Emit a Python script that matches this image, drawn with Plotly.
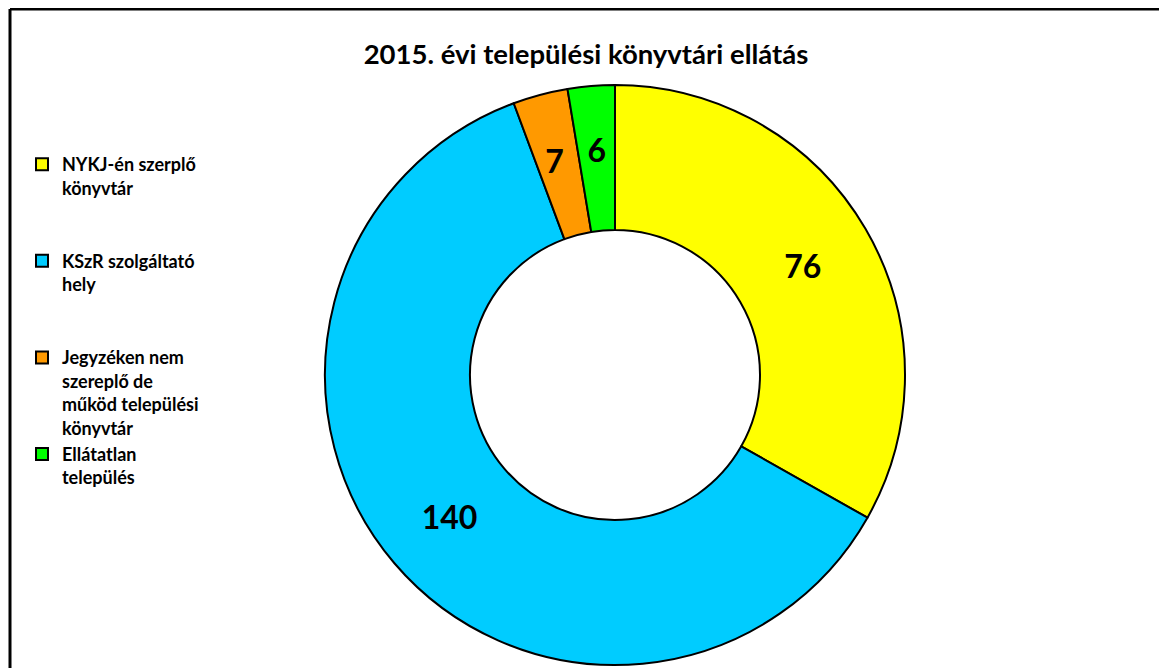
import plotly.graph_objects as go

title = "2015. évi települési könyvtári ellátás"
labels = [
    "NYKJ-én szerplő<br>könyvtár<br>\u00a0<br>\u00a0",
    "KSzR szolgáltató<br>hely<br>\u00a0<br>\u00a0",
    "Jegyzéken nem<br>szereplő de<br>működ települési<br>könyvtár",
    "Ellátatlan<br>település",
]
values = [76, 140, 7, 6]
colors = ["#FFFF00", "#00CCFF", "#FF9900", "#00FF00"]
# thin slices: pad label with blank lines above so the number sits mid-ring
label_templates = ["%{value}", "%{value}",
                   "\u00a0<br>\u00a0<br>\u00a0\u00a0%{value}",
                   "\u00a0<br>\u00a0<br>\u00a0%{value}"]

# page has an 8px body margin; figure coordinates = page coordinates - 8
OFF = 8
W, H = 1167 - OFF, 668 - OFF
FONT = "Lato, 'Open Sans', sans-serif"


def px(xp):
    return (xp - OFF) / W


def py(yp):
    return 1 - (yp - OFF) / H


fig = go.Figure()
fig.add_trace(go.Pie(
    labels=labels,
    values=values,
    hole=0.5,
    sort=False,
    direction="clockwise",
    rotation=0,
    marker=dict(colors=colors, line=dict(color="#000000", width=2)),
    texttemplate=label_templates,
    textposition="inside",
    insidetextorientation="horizontal",
    textfont=dict(family=FONT, size=32, color="#000000", weight="bold"),
    hoverinfo="label+value+percent",
    domain=dict(x=[px(325), px(905)], y=[py(665), py(85)]),
    showlegend=True,
))

fig.update_layout(
    width=W, height=H,
    margin=dict(l=0, r=0, t=0, b=0),
    paper_bgcolor="#FFFFFF",
    plot_bgcolor="#FFFFFF",
    uniformtext=dict(minsize=32, mode="show"),
    title=dict(
        text=f"<b>{title}</b>",
        x=px(586), xanchor="center",
        y=py(54), yanchor="middle",
        font=dict(family=FONT, size=27.5, color="#000000"),
    ),
    legend=dict(
        x=px(22), xanchor="left",
        y=py(146), yanchor="top",
        valign="top",
        font=dict(family=FONT, size=18, color="#000000", weight="bold"),
        bgcolor="rgba(0,0,0,0)",
        traceorder="normal",
    ),
    shapes=[
        dict(type="line", xref="paper", yref="paper",
             x0=px(10), x1=1.02, y0=py(9), y1=py(9),
             line=dict(color="#000000", width=3)),
        dict(type="line", xref="paper", yref="paper",
             x0=px(10), x1=px(10), y0=-0.02, y1=py(9),
             line=dict(color="#000000", width=3)),
    ],
)

fig.write_html("out.html")
